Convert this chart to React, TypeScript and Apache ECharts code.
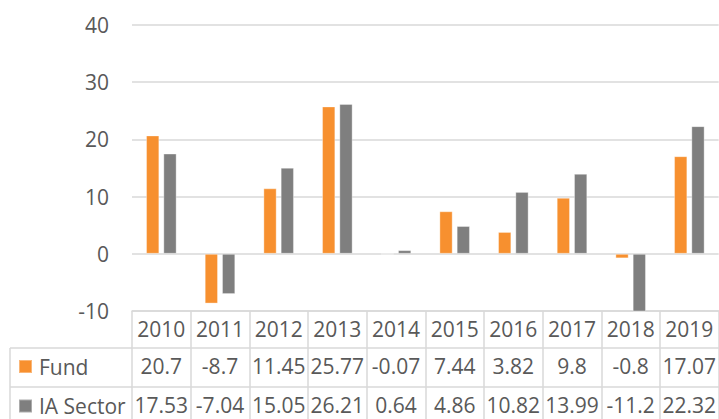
import React, { useEffect, useRef } from "react";
import * as echarts from "echarts";

const years = ["2010", "2011", "2012", "2013", "2014", "2015", "2016", "2017", "2018", "2019"];
const fund = [20.7, -8.7, 11.45, 25.77, -0.07, 7.44, 3.82, 9.8, -0.8, 17.07];
const iaSector = [17.53, -7.04, 15.05, 26.21, 0.64, 4.86, 10.82, 13.99, -11.2, 22.32];
const seriesNames = ["Fund", "IA Sector"];
const yMin = -10;
const yMax = 40;
const yStep = 10;

const FONT = "'Open Sans', sans-serif";
const TXT = "#595959";
const LINE = "#d9d9d9";
const LW = 1.5;
const ORANGE = "#F7902F";
const GRAY = "#7F7F7F";
const FS = 21;

export default function App() {
  const ref = useRef<HTMLDivElement>(null);
  useEffect(() => {
    if (!ref.current) return;
    const chart = echarts.init(ref.current, null, { renderer: "svg" });
    const labelBase = {
      fontSize: FS,
      fontFamily: FONT,
      color: TXT,
      verticalAlign: "middle" as const,
      margin: 18,
      interval: 0,
    };
    chart.setOption({
      animation: false,
      backgroundColor: "#ffffff",
      textStyle: { fontFamily: FONT },
      grid: { left: 132, top: 25, width: 589, height: 286, containLabel: false },
      legend: {
        orient: "vertical",
        left: 18,
        top: 356,
        padding: 0,
        itemWidth: 13,
        itemHeight: 13,
        itemGap: 18.5,
        icon: "rect",
        selectedMode: false,
        data: seriesNames,
        textStyle: {
          fontSize: FS,
          fontFamily: FONT,
          color: TXT,
          lineHeight: 20,
          padding: [0, 0, 0, 2],
        },
      },
      xAxis: [
        {
          type: "category",
          data: years,
          position: "bottom",
          axisLine: { show: true, onZero: false, lineStyle: { color: LINE, width: LW } },
          axisTick: { show: true, interval: 0, length: 112, lineStyle: { color: LINE, width: LW } },
          axisLabel: { ...labelBase },
          splitLine: { show: false },
        },
        {
          type: "category",
          data: fund.map((v) => String(v)),
          position: "bottom",
          offset: 37,
          axisLine: { show: true, onZero: false, lineStyle: { color: LINE, width: LW } },
          axisTick: { show: false },
          axisLabel: { ...labelBase },
        },
        {
          type: "category",
          data: iaSector.map((v) => String(v)),
          position: "bottom",
          offset: 76,
          axisLine: { show: true, onZero: false, lineStyle: { color: LINE, width: LW } },
          axisTick: { show: false },
          axisLabel: { ...labelBase },
        },
      ],
      yAxis: {
        type: "value",
        min: yMin,
        max: yMax,
        interval: yStep,
        axisLine: { show: false },
        axisTick: { show: false },
        axisLabel: { fontSize: FS, fontFamily: FONT, color: TXT, margin: 23 },
        splitLine: { show: true, lineStyle: { color: LINE, width: LW } },
      },
      graphic: [
        { type: "line", shape: { x1: 10, y1: 348, x2: 132, y2: 348 }, style: { stroke: LINE, lineWidth: LW } },
        { type: "line", shape: { x1: 10, y1: 387, x2: 132, y2: 387 }, style: { stroke: LINE, lineWidth: LW } },
        { type: "line", shape: { x1: 10, y1: 348, x2: 10, y2: 419 }, style: { stroke: LINE, lineWidth: LW } },
      ],
      series: [
        {
          name: seriesNames[0],
          type: "bar",
          data: fund,
          xAxisIndex: 0,
          barWidth: 13.3,
          barGap: "30%",
          itemStyle: { color: ORANGE, borderColor: "rgba(255,255,255,0.35)", borderWidth: 1 },
        },
        {
          name: seriesNames[1],
          type: "bar",
          data: iaSector,
          xAxisIndex: 0,
          barWidth: 13.3,
          barGap: "30%",
          itemStyle: { color: GRAY, borderColor: "rgba(255,255,255,0.35)", borderWidth: 1 },
        },
      ],
    });
    return () => chart.dispose();
  }, []);
  return (
    <div
      ref={ref}
      style={{ position: "absolute", left: 0, top: 0, width: 719, height: 419 }}
    />
  );
}
